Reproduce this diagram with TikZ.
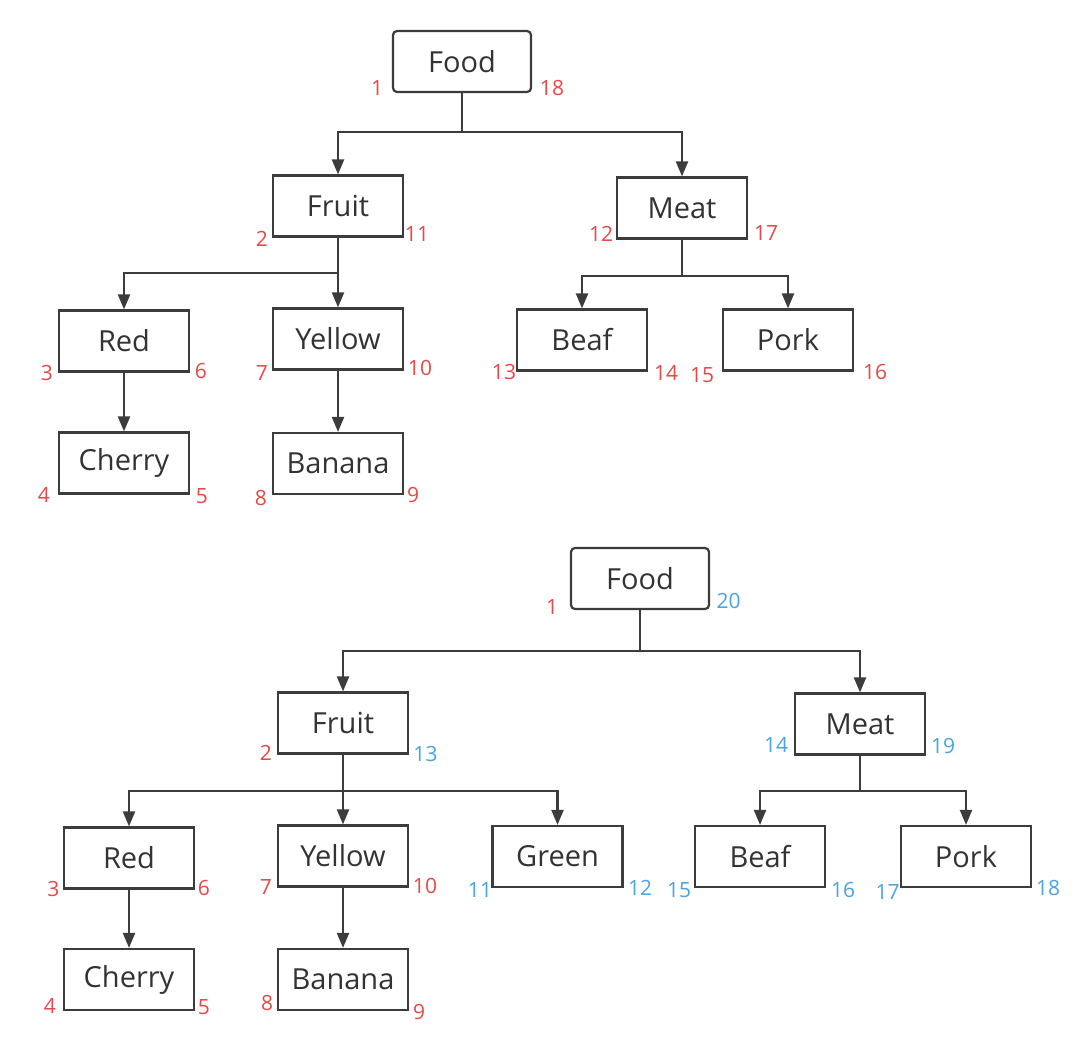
\documentclass[tikz,border=0pt]{standalone}
\usepackage{fontspec}
\setmainfont{Open Sans}
\usetikzlibrary{arrows.meta}
\definecolor{boxline}{HTML}{3C3C3C}
\definecolor{txt}{HTML}{333333}
\definecolor{numred}{HTML}{E84848}
\definecolor{numblue}{HTML}{48A4E8}
\tikzset{
  x=1pt, y=-1pt,
  box/.style={draw=boxline, line width=2.2pt, minimum width=130pt, minimum height=61pt, inner sep=0pt, text=txt, font=\fontsize{29}{34}\selectfont},
  rootbox/.style={box, minimum width=138pt, rounded corners=4pt},
  conn/.style={draw=boxline, line width=2.2pt, -{Triangle[width=12pt,length=15pt]}},
  nr/.style={text=numred, inner sep=0pt, font=\fontsize{21}{24}\selectfont},
  nb/.style={text=numblue, inner sep=0pt, font=\fontsize{21}{24}\selectfont}
}
\begin{document}
\begin{tikzpicture}
\useasboundingbox[fill=white] (0,0) rectangle (1076,1044);
% ---------- top tree ----------
\node[rootbox] (food1) at (462,61.5) {Food};
\node[box] (fruit1) at (338,206) {Fruit};
\node[box] (meat1) at (682,208) {Meat};
\node[box] (red1) at (124,341) {Red};
\node[box] (yellow1) at (338,339) {Yellow};
\node[box] (cherry1) at (124,463) {Cherry};
\node[box] (banana1) at (338,463.5) {Banana};
\node[box] (beaf1) at (582,340) {Beaf};
\node[box] (pork1) at (788,340) {Pork};

\draw[conn] (food1.south) -- ++(0,39) -| (fruit1.north);
\draw[conn] (food1.south) -- ++(0,39) -| (meat1.north);
\draw[conn] (fruit1.south) -- (yellow1.north);
\draw[conn] (fruit1.south) -- ++(0,35) -| (red1.north);
\draw[conn] (red1.south) -- (cherry1.north);
\draw[conn] (yellow1.south) -- (banana1.north);
\draw[conn] (meat1.south) -- ++(0,36) -| (beaf1.north);
\draw[conn] (meat1.south) -- ++(0,36) -| (pork1.north);

\node[nr] (t1) at (377,88.5) {1};
\node[nr] (t18) at (552,88) {18};
\node[nr] (t2) at (262,239) {2};
\node[nr] (t11) at (417,234.5) {11};
\node[nr] (t12) at (601,233.5) {12};
\node[nr] (t17) at (766,233.5) {17};
\node[nr] (t3) at (47,372.5) {3};
\node[nr] (t6) at (201,370.5) {6};
\node[nr] (t7) at (262,372.5) {7};
\node[nr] (t10) at (420,367.5) {10};
\node[nr] (t4) at (44,494.5) {4};
\node[nr] (t5) at (202,496.5) {5};
\node[nr] (t8) at (261,497.5) {8};
\node[nr] (t9) at (413,495) {9};
\node[nr] (t13) at (504,372) {13};
\node[nr] (t14) at (666,373) {14};
\node[nr] (t15) at (702,375) {15};
\node[nr] (t16) at (875,372) {16};

% ---------- bottom tree ----------
\node[rootbox] (food2) at (640,578.5) {Food};
\node[box] (fruit2) at (343,723) {Fruit};
\node[box] (meat2) at (860,724) {Meat};
\node[box] (red2) at (129,858) {Red};
\node[box] (yellow2) at (343,856) {Yellow};
\node[box] (green2) at (557.5,856.5) {Green};
\node[box] (cherry2) at (129,979.5) {Cherry};
\node[box] (banana2) at (343,979.5) {Banana};
\node[box] (beaf2) at (760,856.5) {Beaf};
\node[box] (pork2) at (966,856.5) {Pork};

\draw[conn] (food2.south) -- ++(0,41) -| (fruit2.north);
\draw[conn] (food2.south) -- ++(0,41) -| (meat2.north);
\draw[conn] (fruit2.south) -- (yellow2.north);
\draw[conn] (fruit2.south) -- ++(0,36) -| (red2.north);
\draw[conn] (fruit2.south) -- ++(0,36) -| (green2.north);
\draw[conn] (red2.south) -- (cherry2.north);
\draw[conn] (yellow2.south) -- (banana2.north);
\draw[conn] (meat2.south) -- ++(0,35) -| (beaf2.north);
\draw[conn] (meat2.south) -- ++(0,35) -| (pork2.north);

\node[nr] (b1) at (552,607) {1};
\node[nb] (b20) at (728.5,600.5) {20};
\node[nr] (b2) at (266,753) {2};
\node[nb] (b13) at (425.5,754) {13};
\node[nb] (b14) at (776,745) {14};
\node[nb] (b19) at (943,746) {19};
\node[nr] (b3) at (53.5,889) {3};
\node[nr] (b6) at (204,888) {6};
\node[nr] (b7) at (266,887) {7};
\node[nr] (b10) at (425,886) {10};
\node[nb] (b11) at (480,890) {11};
\node[nb] (b12) at (640,888) {12};
\node[nb] (b15) at (679,890) {15};
\node[nb] (b16) at (843,890) {16};
\node[nb] (b17) at (887.5,892) {17};
\node[nb] (b18) at (1048,888) {18};
\node[nr] (b4) at (50,1006) {4};
\node[nr] (b5) at (204,1007) {5};
\node[nr] (b8) at (267,1003) {8};
\node[nr] (b9) at (419,1012) {9};
\end{tikzpicture}
\end{document}
